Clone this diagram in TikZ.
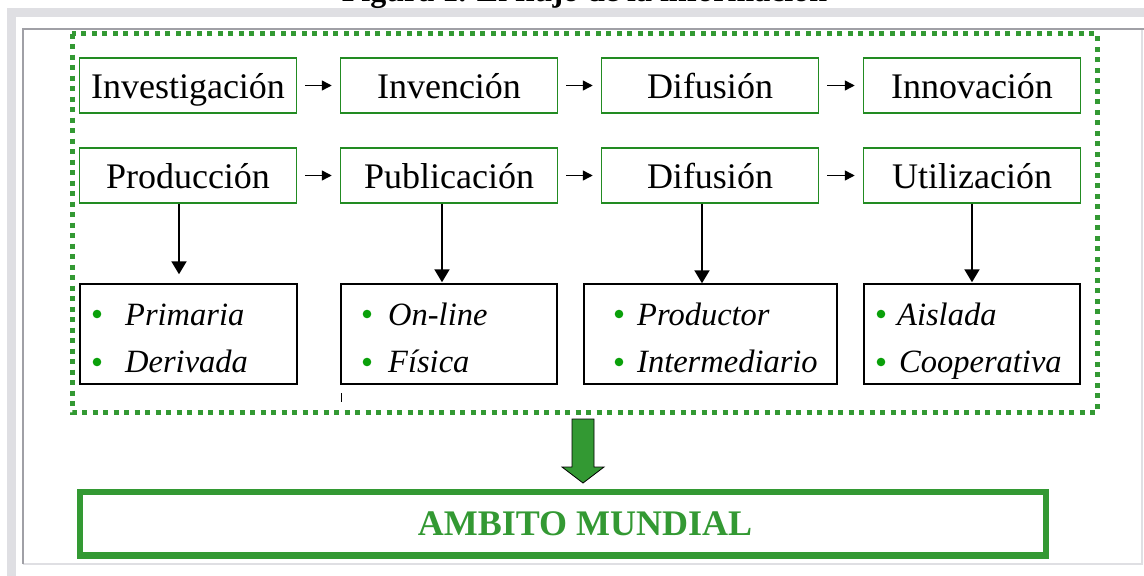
\documentclass[tikz,border=0pt]{standalone}
\usepackage{fontspec}
\setmainfont{Liberation Serif}
\usetikzlibrary{arrows.meta}
\definecolor{dotgreen}{RGB}{51,153,51}
\definecolor{boxgreen}{RGB}{34,139,34}
\definecolor{bulletgreen}{RGB}{10,160,10}
\definecolor{framegray}{RGB}{223,223,227}
\definecolor{darkline}{RGB}{160,160,166}
\tikzset{
  rowbox/.style={draw=boxgreen, line width=1.5pt, minimum width=217pt, minimum height=55pt, inner sep=0pt,
    font=\fontsize{36}{40}\selectfont, text height=25pt, text depth=0pt},
  listbox/.style={draw=black, line width=1.5pt, minimum height=100pt, inner sep=0pt},
  item/.style={anchor=base west, inner sep=0pt, font=\itshape\fontsize{32.5}{36}\selectfont},
  bul/.style={fill=bulletgreen},
  harrow/.style={line width=1.5pt, -{Triangle[length=10pt,width=10pt]}, shorten <=8pt, shorten >=8pt},
  varrow/.style={line width=2pt, -{Triangle[length=13pt,width=15pt]}}
}
\begin{document}
\begin{tikzpicture}[x=1pt,y=-1pt]
\useasboundingbox (0,0) rectangle (1144,576);
% window frame
\fill[framegray] (7,8) rectangle (1144,576);
\fill[white] (16,17) rectangle (1144,576);
\draw[framegray, line width=1.5pt] (23,564) -- (1142,564) -- (1142,29);
\draw[darkline, line width=1.5pt] (23,564) -- (23,29) -- (1144,29);
% title (cut off at top)
\node[font=\bfseries\fontsize{32}{36}\selectfont, anchor=base, inner sep=0pt] (title) at (584.5,1.5) {Figura 1. El flujo de la información};
% dotted frame
\draw[dotgreen, line width=5pt, dash pattern=on 5pt off 5.5pt] (72,33.5) rectangle (1097,412);
% row 1
\node[rowbox] (inv) at (188,85.5) {Investigación};
\node[rowbox] (inve) at (449,85.5) {Invención};
\node[rowbox] (dif1) at (710,85.5) {Difusión};
\node[rowbox] (inno) at (972,85.5) {Innovación};
% row 2
\node[rowbox] (prod) at (188,175.5) {Producción};
\node[rowbox] (pub) at (449,175.5) {Publicación};
\node[rowbox] (dif2) at (710,175.5) {Difusión};
\node[rowbox] (util) at (972,175.5) {Utilización};
% row 3 boxes
\node[listbox, minimum width=217pt] (prim) at (188.5,334) {};
\node[listbox, minimum width=216pt] (onl) at (449,334) {};
\node[listbox, minimum width=253pt] (pdt) at (710.5,334) {};
\node[listbox, minimum width=216pt] (ais) at (972,334) {};
% items
\fill[bul] (97,314) circle (4.3pt); \fill[bul] (97,362) circle (4.3pt);
\node[item] (i1) at (125,325) {Primaria};
\node[item] (i2) at (125,372) {Derivada};
\fill[bul] (367,314) circle (4.3pt); \fill[bul] (367,362) circle (4.3pt);
\node[item] (i3) at (388,325) {On-line};
\node[item] (i4) at (388,372) {Física};
\fill[bul] (619,314) circle (4.3pt); \fill[bul] (619,362) circle (4.3pt);
\node[item] (i5) at (637,325) {Productor};
\node[item] (i6) at (637,372) {Intermediario};
\fill[bul] (881,314) circle (4.3pt); \fill[bul] (881,362) circle (4.3pt);
\node[item] (i7) at (897,325) {Aislada};
\node[item] (i8) at (899,372) {Cooperativa};
% horizontal arrows
\draw[harrow] (inv) -- (inve);
\draw[harrow] (inve) -- (dif1);
\draw[harrow] (dif1) -- (inno);
\draw[harrow] (prod) -- (pub);
\draw[harrow] (pub) -- (dif2);
\draw[harrow] (dif2) -- (util);
% vertical arrows
\draw[varrow, shorten >=9pt] ([xshift=-9pt]prod.south) -- ([xshift=-9pt]prod.south |- prim.north);
\draw[varrow, shorten >=1pt] ([xshift=-7pt]pub.south) -- ([xshift=-7pt]pub.south |- onl.north);
\draw[varrow] ([xshift=-8pt]dif2.south) -- ([xshift=-8pt]dif2.south |- pdt.north);
\draw[varrow, shorten >=1pt] (util.south) -- (util.south |- ais.north);
% small tick
\draw[line width=1pt] (341,393) -- (341,402);
% block arrow
\draw[fill=dotgreen, draw=black, line width=0.8pt] (572,419) -- (594,419) -- (594,467) -- (604,467) -- (583,483) -- (562,467) -- (572,467) -- cycle;
% ambito
\node[draw=dotgreen, line width=6.7pt, minimum width=966pt, minimum height=63.5pt, inner sep=0pt] (amb) at (563,523.75) {};
\node[font=\bfseries\fontsize{36}{40}\selectfont, text=dotgreen, anchor=base, inner sep=0pt] (ambt) at (585,535.7) {AMBITO MUNDIAL};
\end{tikzpicture}
\end{document}
